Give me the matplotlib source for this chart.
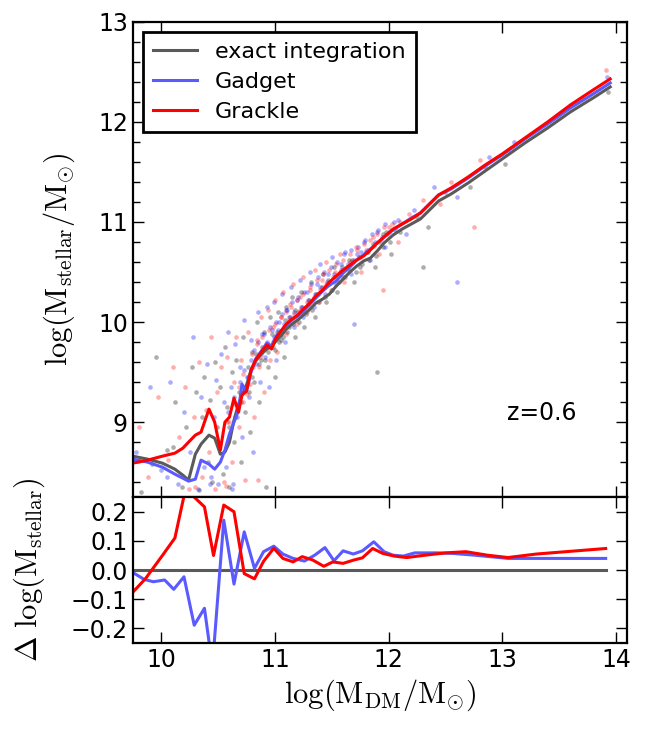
import matplotlib
matplotlib.use('Agg')
import matplotlib.pyplot as plt
from matplotlib.ticker import MultipleLocator, FixedLocator

plt.rcParams['mathtext.fontset'] = 'cm'
plt.rcParams['font.family'] = 'DejaVu Sans'

# binned median relation (top panel)
mdm = [9.75, 9.88, 10.01, 10.12, 10.19, 10.24, 10.30, 10.35, 10.42, 10.47, 10.52, 10.56,
       10.60, 10.64, 10.68, 10.71, 10.75, 10.79, 10.83, 10.88, 10.93, 10.97, 11.01, 11.06,
       11.10, 11.15, 11.20, 11.25, 11.30, 11.36, 11.42, 11.48, 11.54, 11.60, 11.66, 11.72,
       11.78, 11.84, 11.90, 11.96, 12.04, 12.12, 12.20, 12.28, 12.36, 12.44, 12.55, 12.70,
       12.85, 13.00, 13.20, 13.40, 13.60, 13.80, 13.95]
exact = [8.66, 8.63, 8.59, 8.53, 8.47, 8.42, 8.68, 8.78, 8.87, 8.84, 8.68, 8.70,
         8.80, 9.02, 9.18, 9.27, 9.37, 9.52, 9.61, 9.68, 9.73, 9.76, 9.81, 9.87,
         9.93, 9.98, 10.02, 10.07, 10.12, 10.19, 10.23, 10.28, 10.36, 10.43, 10.50, 10.56,
         10.61, 10.64, 10.71, 10.79, 10.87, 10.93, 10.98, 11.03, 11.12, 11.21, 11.28, 11.39,
         11.51, 11.63, 11.79, 11.94, 12.10, 12.24, 12.35]
gadget = [8.63, 8.60, 8.55, 8.48, 8.44, 8.41, 8.43, 8.62, 8.58, 8.53, 8.60, 8.72,
          8.88, 9.00, 9.12, 9.38, 9.31, 9.50, 9.63, 9.71, 9.79, 9.76, 9.86, 9.92,
          9.97, 10.02, 10.06, 10.11, 10.17, 10.24, 10.31, 10.37, 10.41, 10.49, 10.55, 10.62,
          10.67, 10.73, 10.79, 10.85, 10.92, 10.98, 11.04, 11.09, 11.18, 11.27, 11.33, 11.44,
          11.56, 11.67, 11.83, 11.98, 12.14, 12.28, 12.39]
grackle = [8.59, 8.62, 8.66, 8.69, 8.74, 8.80, 8.87, 8.90, 9.13, 9.00, 8.72, 9.00,
           9.05, 9.24, 9.10, 9.27, 9.31, 9.52, 9.62, 9.70, 9.77, 9.73, 9.84, 9.92,
           9.98, 10.03, 10.07, 10.13, 10.18, 10.26, 10.32, 10.40, 10.46, 10.52, 10.57, 10.62,
           10.66, 10.72, 10.79, 10.85, 10.93, 10.98, 11.03, 11.09, 11.18, 11.27, 11.34, 11.45,
           11.57, 11.68, 11.84, 12.00, 12.17, 12.32, 12.43]

k_x = [9.82, 9.95, 10.05, 10.12, 10.18, 10.22, 10.27, 10.31, 10.33, 10.36, 10.38, 10.41,
       10.43, 10.45, 10.47, 10.49, 10.52, 10.54, 10.56, 10.58, 10.60, 10.62, 10.64, 10.66,
       10.68, 10.70, 10.72, 10.74, 10.76, 10.78, 10.80, 10.82, 10.84, 10.86, 10.88, 10.90,
       10.92, 10.94, 10.96, 10.98, 11.00, 11.03, 11.05, 11.08, 11.10, 11.12, 11.15, 11.18,
       11.20, 11.23, 11.26, 11.29, 11.32, 11.35, 11.38, 11.42, 11.45, 11.48, 11.52, 11.55,
       11.60, 11.65, 11.70, 11.75, 11.82, 11.88, 11.95, 12.02, 12.10, 12.25, 12.35, 12.50,
       12.72, 12.85, 13.02, 13.93, 11.90, 12.30, 10.10, 9.92,
       10.80, 10.83, 10.86, 10.89, 10.91, 10.94, 10.97, 11.00, 11.02, 11.04, 11.07, 11.09,
       11.11, 11.13, 11.16, 11.18, 11.21, 11.24, 11.27, 11.30, 11.33, 11.36, 11.39, 11.41,
       11.44, 11.47, 11.50, 11.53, 11.56, 11.59, 11.62, 11.65, 11.68, 11.71, 11.74, 11.77,
       11.80, 11.83, 11.86, 11.89, 11.92, 11.95, 11.98, 12.01, 12.06, 10.70, 10.74, 10.77,
       10.65, 10.60]
k_y = [8.30, 9.65, 8.72, 9.20, 8.35, 8.95, 9.55, 9.30, 8.32, 9.05, 9.45, 8.60,
       9.22, 8.40, 9.60, 8.95, 9.35, 8.48, 9.75, 9.15, 8.35, 9.50, 8.80, 9.62,
       9.30, 8.60, 9.85, 9.10, 9.55, 8.90, 9.70, 9.40, 10.00, 9.20, 9.62, 9.90,
       8.35, 9.55, 10.05, 9.75, 9.45, 10.10, 9.82, 9.65, 10.15, 9.95, 10.25, 9.85,
       10.10, 10.30, 9.95, 10.18, 10.40, 10.05, 10.28, 10.48, 10.20, 10.38, 10.55, 10.30,
       10.45, 10.62, 10.40, 10.55, 10.70, 10.55, 10.88, 10.68, 10.90, 11.05, 10.95, 11.30,
       11.35, 11.55, 11.58, 12.30, 9.50, 10.55, 8.75, 8.58,
       9.45, 9.68, 9.58, 9.75, 9.62, 9.70, 9.88, 9.72, 9.90, 9.80, 9.85, 10.02,
       9.90, 10.05, 9.98, 10.12, 10.00, 10.15, 10.08, 10.22, 10.12, 10.28, 10.20, 10.35,
       10.25, 10.42, 10.32, 10.45, 10.40, 10.55, 10.45, 10.52, 10.62, 10.50, 10.65, 10.58,
       10.70, 10.62, 10.78, 10.66, 10.80, 10.75, 10.90, 10.80, 10.92, 9.20, 9.35, 9.30,
       9.05, 8.95]
b_x = [9.78, 9.90, 10.00, 10.08, 10.15, 10.20, 10.25, 10.28, 10.32, 10.35, 10.38, 10.40,
       10.43, 10.46, 10.48, 10.50, 10.53, 10.55, 10.57, 10.59, 10.61, 10.63, 10.65, 10.67,
       10.69, 10.71, 10.73, 10.75, 10.77, 10.79, 10.81, 10.83, 10.85, 10.87, 10.89, 10.91,
       10.93, 10.95, 10.97, 10.99, 11.01, 11.04, 11.06, 11.09, 11.11, 11.14, 11.17, 11.19,
       11.22, 11.25, 11.28, 11.31, 11.34, 11.37, 11.40, 11.44, 11.47, 11.50, 11.54, 11.58,
       11.62, 11.67, 11.72, 11.78, 11.84, 11.90, 11.97, 12.05, 12.15, 12.22, 12.40, 12.60,
       12.88, 13.10, 13.92, 11.70, 12.60, 10.05, 10.44, 10.62,
       10.79, 10.82, 10.85, 10.88, 10.90, 10.93, 10.96, 10.99, 11.01, 11.03, 11.06, 11.08,
       11.10, 11.12, 11.15, 11.17, 11.20, 11.23, 11.26, 11.29, 11.32, 11.35, 11.38, 11.40,
       11.43, 11.46, 11.49, 11.52, 11.55, 11.58, 11.61, 11.64, 11.67, 11.70, 11.73, 11.76,
       11.79, 11.82, 11.85, 11.88, 11.91, 11.94, 11.97, 12.00, 12.08, 10.69, 10.73, 10.76,
       10.64, 10.59]
b_y = [8.70, 9.35, 8.52, 9.40, 8.38, 9.10, 8.70, 9.85, 8.33, 9.25, 8.55, 9.58,
       8.38, 9.05, 9.42, 8.38, 9.68, 9.20, 8.55, 9.90, 9.35, 8.38, 9.78, 9.05,
       9.55, 8.85, 10.02, 9.45, 9.25, 9.82, 8.70, 9.58, 10.10, 9.40, 9.88, 9.65,
       10.15, 9.35, 9.92, 10.20, 9.62, 10.00, 10.28, 9.80, 10.12, 10.35, 9.95, 10.22,
       10.42, 10.05, 10.30, 10.50, 10.15, 10.38, 10.58, 10.28, 10.48, 10.65, 10.38, 10.58,
       10.70, 10.48, 10.68, 10.80, 10.62, 10.90, 10.75, 11.00, 10.88, 11.12, 11.35, 11.25,
       11.65, 11.80, 12.45, 9.98, 10.40, 8.45, 8.45, 8.33,
       9.62, 9.72, 9.80, 9.68, 9.88, 9.80, 9.95, 9.85, 10.00, 9.92, 10.08, 9.98,
       10.12, 10.05, 10.20, 10.10, 10.25, 10.15, 10.30, 10.22, 10.38, 10.28, 10.45, 10.35,
       10.50, 10.40, 10.55, 10.48, 10.60, 10.52, 10.68, 10.58, 10.72, 10.62, 10.75, 10.70,
       10.82, 10.72, 10.88, 10.80, 10.92, 10.85, 10.98, 10.90, 11.02, 9.40, 9.52, 9.45,
       9.25, 9.10]
r_x = [9.80, 9.88, 9.97, 10.06, 10.10, 10.16, 10.21, 10.24, 10.29, 10.33, 10.36, 10.39,
       10.42, 10.44, 10.47, 10.49, 10.51, 10.53, 10.55, 10.58, 10.60, 10.62, 10.64, 10.66,
       10.68, 10.70, 10.72, 10.74, 10.76, 10.78, 10.80, 10.82, 10.84, 10.86, 10.88, 10.90,
       10.92, 10.94, 10.96, 10.98, 11.00, 11.02, 11.05, 11.07, 11.10, 11.13, 11.16, 11.19,
       11.22, 11.25, 11.28, 11.31, 11.35, 11.38, 11.41, 11.45, 11.49, 11.53, 11.57, 11.61,
       11.66, 11.71, 11.76, 11.80, 11.86, 11.92, 12.00, 12.08, 12.18, 12.30, 12.45, 12.55,
       12.80, 13.05, 13.91, 12.75, 11.95, 10.30, 10.57, 10.85,
       10.81, 10.84, 10.87, 10.89, 10.92, 10.95, 10.98, 11.00, 11.03, 11.05, 11.08, 11.10,
       11.12, 11.14, 11.17, 11.19, 11.22, 11.25, 11.28, 11.31, 11.34, 11.37, 11.40, 11.42,
       11.45, 11.48, 11.51, 11.54, 11.57, 11.60, 11.63, 11.66, 11.69, 11.72, 11.75, 11.78,
       11.81, 11.84, 11.87, 11.90, 11.93, 11.96, 11.99, 12.03, 12.10, 10.68, 10.72, 10.75,
       10.63, 10.58]
r_y = [8.95, 8.45, 9.25, 8.62, 9.55, 8.85, 9.35, 8.33, 9.05, 9.60, 8.45, 9.12,
       8.70, 9.85, 8.33, 9.30, 8.80, 9.55, 8.40, 9.65, 9.00, 8.60, 9.40, 9.85,
       8.95, 9.62, 9.20, 8.42, 9.90, 9.38, 9.68, 9.05, 9.82, 9.55, 10.05, 9.30,
       9.78, 10.12, 9.62, 9.95, 10.22, 9.70, 10.05, 10.30, 9.88, 10.18, 10.38, 9.98,
       10.25, 10.45, 10.10, 10.32, 10.52, 10.20, 10.42, 10.60, 10.32, 10.50, 10.68, 10.40,
       10.60, 10.75, 10.50, 10.72, 10.85, 10.68, 10.95, 10.80, 11.08, 11.22, 11.18, 11.40,
       11.62, 11.72, 12.52, 10.95, 10.32, 8.35, 8.36, 8.42,
       9.55, 9.78, 9.65, 9.85, 9.75, 9.92, 9.80, 9.98, 9.88, 10.05, 9.95, 10.10,
       10.02, 10.15, 10.08, 10.22, 10.12, 10.28, 10.20, 10.35, 10.25, 10.42, 10.32, 10.48,
       10.38, 10.52, 10.45, 10.58, 10.50, 10.62, 10.55, 10.68, 10.60, 10.72, 10.65, 10.78,
       10.70, 10.82, 10.76, 10.88, 10.82, 10.95, 10.88, 10.98, 11.00, 9.35, 9.48, 9.28,
       9.18, 9.00]

# differences relative to exact integration (bottom panel)
gad_dx = [9.74, 9.85, 9.93, 10.03, 10.11, 10.20, 10.29, 10.38, 10.45, 10.55, 10.64, 10.73,
          10.82, 10.90, 10.99, 11.07, 11.16, 11.26, 11.35, 11.44, 11.52, 11.60, 11.69, 11.77,
          11.87, 11.96, 12.04, 12.13, 12.23, 12.43, 12.57, 12.76, 13.05, 13.91]
gad_d = [-0.006, -0.032, -0.040, -0.034, -0.066, -0.023, -0.189, -0.131, -0.330, 0.171, -0.048, 0.131,
         0.006, 0.063, 0.082, 0.055, 0.040, 0.031, 0.051, 0.077, 0.032, 0.066, 0.055, 0.066,
         0.097, 0.063, 0.051, 0.048, 0.059, 0.059, 0.057, 0.051, 0.040, 0.040]
gra_dx = [9.74, 9.86, 10.01, 10.12, 10.22, 10.29, 10.38, 10.46, 10.55, 10.64, 10.73, 10.82,
          10.90, 10.99, 11.07, 11.16, 11.24, 11.33, 11.43, 11.51, 11.60, 11.69, 11.77, 11.86,
          11.95, 12.05, 12.16, 12.32, 12.50, 12.68, 12.87, 13.05, 13.30, 13.91]
gra_d = [-0.080, -0.030, 0.050, 0.110, 0.290, 0.250, 0.217, 0.050, 0.223, 0.200, -0.012, -0.030,
         0.030, 0.075, 0.040, 0.028, 0.046, 0.035, 0.013, 0.028, 0.023, 0.034, 0.042, 0.074,
         0.057, 0.048, 0.043, 0.051, 0.059, 0.063, 0.051, 0.043, 0.055, 0.074]
zero_x = [9.74, 13.91]
zero_y = [0.0, 0.0]

c_exact = '#5a5a5a'
c_gad = '#5a5aff'
c_gra = '#ff0000'

fig = plt.figure(figsize=(6.48, 7.29), dpi=100)
ax1 = fig.add_axes([0.205, 0.318, 0.763, 0.652])
ax2 = fig.add_axes([0.205, 0.118, 0.763, 0.200], sharex=ax1)

ax1.scatter(k_x, k_y, s=11, c='k', alpha=0.32, lw=0)
ax1.scatter(b_x, b_y, s=11, c='b', alpha=0.32, lw=0)
ax1.scatter(r_x, r_y, s=11, c='r', alpha=0.32, lw=0)
ax1.plot(mdm, exact, color=c_exact, lw=2.2, label='exact integration')
ax1.plot(mdm, gadget, color=c_gad, lw=2.2, label='Gadget')
ax1.plot(mdm, grackle, color=c_gra, lw=2.2, label='Grackle')

ax2.plot(zero_x, zero_y, color=c_exact, lw=2.2)
ax2.plot(gad_dx, gad_d, color=c_gad, lw=2.2)
ax2.plot(gra_dx, gra_d, color=c_gra, lw=2.2)

ax1.set_xlim(9.75, 14.1)
ax1.set_ylim(8.25, 13)
ax2.set_ylim(-0.25, 0.25)
ax1.xaxis.set_major_locator(FixedLocator([10, 11, 12, 13, 14]))
ax1.yaxis.set_major_locator(FixedLocator([9, 10, 11, 12, 13]))
ax1.yaxis.set_minor_locator(MultipleLocator(0.2))
ax2.yaxis.set_major_locator(FixedLocator([-0.2, -0.1, 0.0, 0.1, 0.2]))
ax2.set_yticklabels(['\u22120.2', '\u22120.1', '0.0', '0.1', '0.2'])
ax1.tick_params(labelbottom=False)

for ax in (ax1, ax2):
    ax.tick_params(which='both', direction='in', top=True, right=True, labelsize=17, width=1)
    ax.tick_params(which='major', length=8)
    ax.tick_params(which='minor', length=5)
    for sp in ax.spines.values():
        sp.set_linewidth(1.6)

ax1.set_ylabel(r'$\log(\mathrm{M}_{\mathrm{stellar}}/\mathrm{M}_{\odot})$', fontsize=22)
ax1.yaxis.set_label_coords(-0.113, 0.5)
ax2.set_ylabel(r'$\Delta\ \log(\mathrm{M}_{\mathrm{stellar}})$', fontsize=22)
ax2.yaxis.set_label_coords(-0.174, 0.5)
ax2.set_xlabel(r'$\log(\mathrm{M}_{\mathrm{DM}}/\mathrm{M}_{\odot})$', fontsize=22)

ax1.text(0.828, 0.177, 'z=0.6', transform=ax1.transAxes, fontsize=17, ha='center', va='center')

leg = ax1.legend(loc='upper left', fontsize=16, fancybox=False, framealpha=1,
                 handlelength=2.0, handletextpad=0.8, labelspacing=0.45, borderpad=0.45,
                 borderaxespad=0.45)
leg.get_frame().set_edgecolor('k')
leg.get_frame().set_linewidth(2)

fig.savefig('out.png', dpi=100)
